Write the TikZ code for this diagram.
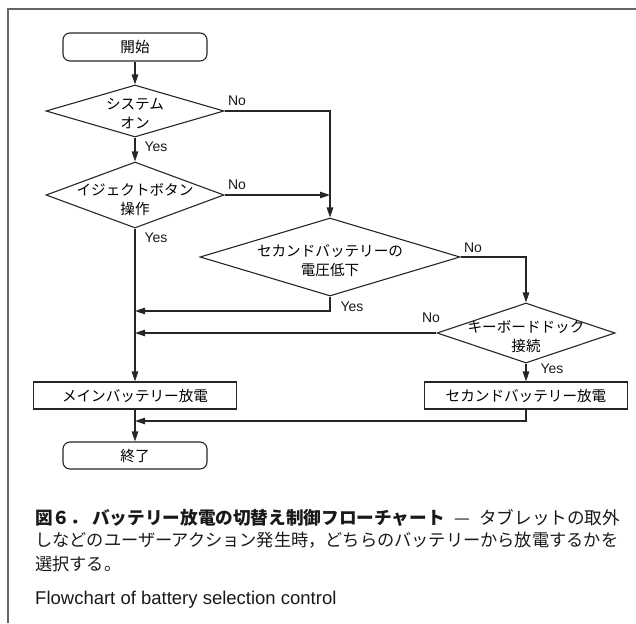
\documentclass[tikz,border=0pt]{standalone}
\usepackage{fontspec}
\usepackage{graphicx}
\setmainfont{Liberation Sans}
\newfontfamily\jp{Noto Sans CJK JP}
\usetikzlibrary{shapes.geometric,arrows.meta}
\newlength\measlen
\begin{document}
\settowidth\measlen{\jp\fontsize{14.5}{19}\selectfont メインバッテリー放電}%
\pgfmathsetmacro\fsd{14.5*146/\the\measlen}%
\settowidth\measlen{\jp\fontsize{17}{17}\selectfont しなどのユーザーアクション発生時，どちらのバッテリーから放電するかを}%
\pgfmathsetmacro\fsc{17*583/\the\measlen}%
\begin{tikzpicture}[x=1pt,y=-1pt,
  ln/.style={line width=1.1pt, draw=black!85},
  arr/.style={ln, -{Triangle[width=6.5pt,length=10pt]}},
  term/.style={ln, rounded corners=7pt, minimum width=144pt, minimum height=28pt, inner sep=0pt, font=\jp\fontsize{\fsd}{19}\selectfont},
  proc/.style={ln, minimum width=203pt, minimum height=27pt, inner sep=0pt, font=\jp\fontsize{\fsd}{19}\selectfont},
  dia/.style={ln, diamond, inner sep=0pt},
  jt/.style={font=\jp\fontsize{\fsd}{19}\selectfont, align=center, inner sep=0pt},
  yn/.style={font=\fontsize{14}{14}\selectfont, inner sep=0pt, text=black!90},
  captxt/.style={anchor=west, inner sep=0pt, font=\jp\fontsize{\fsc}{\fsc}\selectfont, text=black!90}
]
\useasboundingbox (0,0) rectangle (636,623);
% frame
\draw[line width=1.5pt, black!60] (636,9) -- (8,9) -- (8,623);

% nodes
\node[term] (start) at (135,47) {開始};
\node[dia, minimum width=178pt, minimum height=52pt] (d1) at (135,111) {};
\node[jt] (t1) at (135,114) {システム\\オン};
\node[dia, minimum width=178pt, minimum height=66pt] (d2) at (135,195) {};
\node[jt] (t2) at (135,200) {イジェクトボタン\\操作};
\node[dia, minimum width=260pt, minimum height=78pt] (d3) at (330,257) {};
\node[jt] (t3) at (330,261) {セカンドバッテリーの\\電圧低下};
\node[dia, minimum width=178pt, minimum height=60pt] (d4) at (526,333) {};
\node[jt] (t4) at (526,337) {キーボードドック\\接続};
\node[proc] (mainb) at (135,395.5) {メインバッテリー放電};
\node[proc] (secb) at (526,395.5) {セカンドバッテリー放電};
\node[term, minimum height=27pt] (stop) at (135,455.5) {終了};

% junction coordinates
\coordinate (j1) at (330,311);
\coordinate (j2) at (135,311);
\coordinate (j3) at (135,333);
\coordinate (j4) at (526,421);
\coordinate (j5) at (135,421);

% connectors
\draw[arr] (start) -- (d1);
\draw[arr] (d1) -- (d2);
\draw[arr] (d1.east) -| (d3.north);
\draw[arr] (d2.east) -- (d2.east -| d3.north);
\draw[arr] (d2) -- (mainb);
\draw[arr] (d3.south) -- (j1) -- (j2);
\draw[arr] (d3.east) -| (d4.north);
\draw[arr] (d4.west) -- (j3);
\draw[arr] (d4) -- (secb);
\draw[arr] (secb.south) -- (j4) -- (j5);
\draw[arr] (mainb) -- (stop);

% labels
\node[yn] (n1) at (237,101) {No};
\node[yn] (y1) at (156,147) {Yes};
\node[yn] (n2) at (237,185) {No};
\node[yn] (y2) at (156,238) {Yes};
\node[yn] (y3) at (352,307) {Yes};
\node[yn] (n3) at (473,248) {No};
\node[yn] (n4) at (431,318) {No};
\node[yn] (y4) at (552,369) {Yes};

% caption
\node[captxt] (c1) at (35,518) {\resizebox{585pt}{!}{{\bfseries 図６．\hspace{4pt}バッテリー放電の切替え制御フローチャート}\hspace{9pt}—\hspace{9pt}タブレットの取外}};
\node[captxt] (c2) at (35,540) {しなどのユーザーアクション発生時，どちらのバッテリーから放電するかを};
\node[captxt] (c3) at (35,564) {選択する。};
\node[captxt, anchor=base west, font=\fontsize{18.5}{18.5}\selectfont] (c4) at (35,604) {Flowchart of battery selection control};
\end{tikzpicture}
\end{document}
